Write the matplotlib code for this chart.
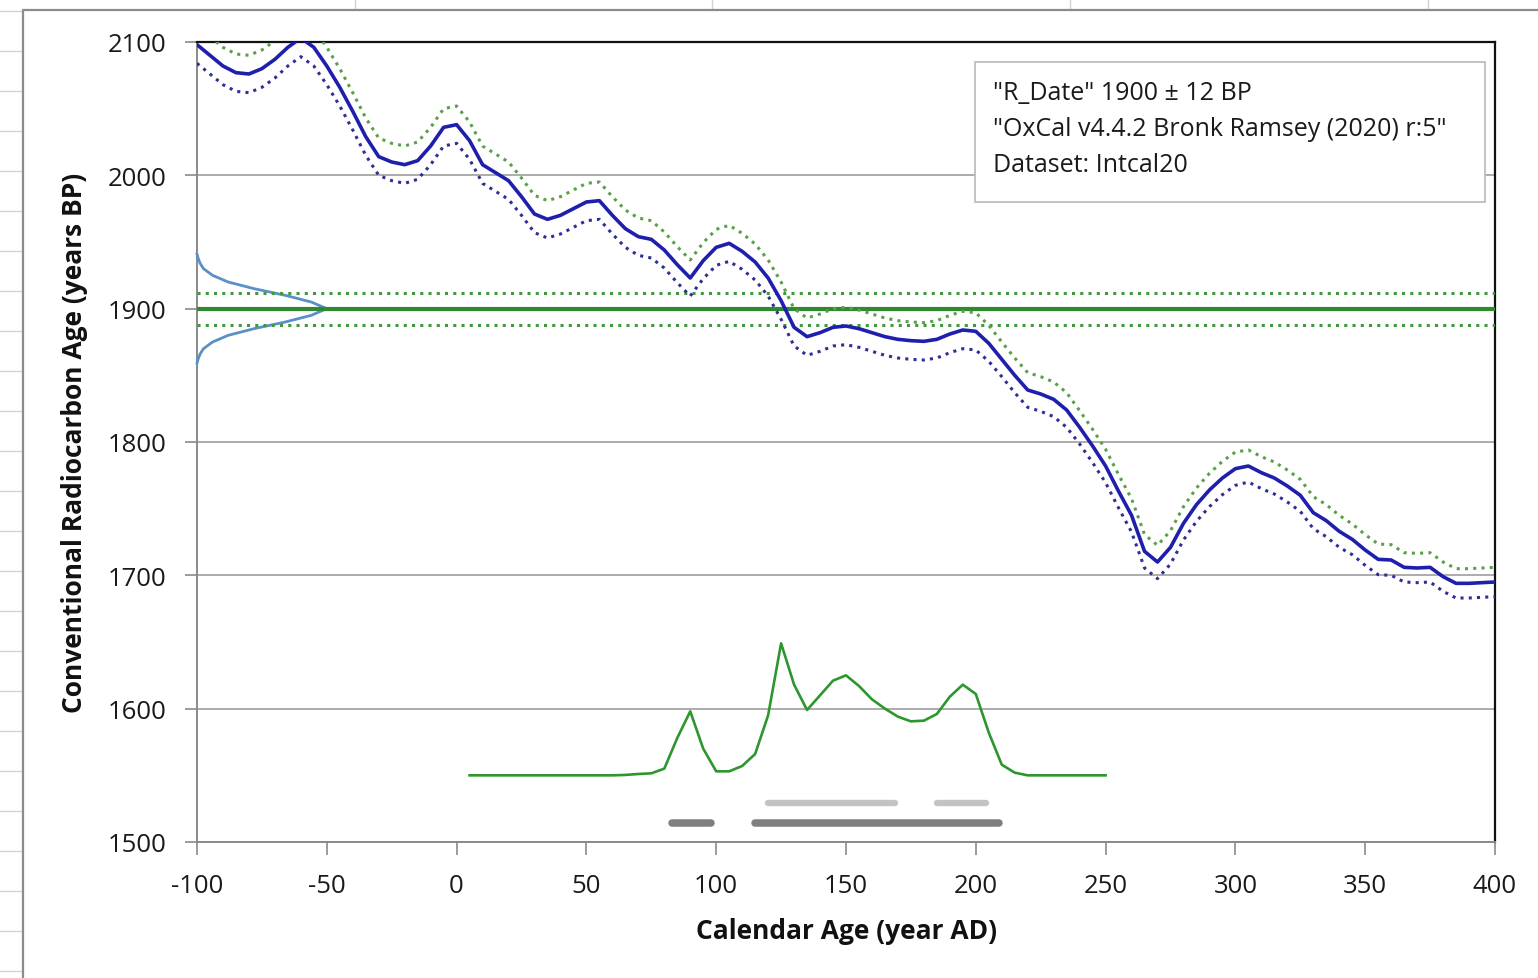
import numpy as np
import matplotlib
matplotlib.use('Agg')
import matplotlib.pyplot as plt
from matplotlib.lines import Line2D
from matplotlib.patches import Rectangle

plt.rcParams['font.family'] = ['Open Sans', 'DejaVu Sans']

# ---------------- data ----------------
cal_years = list(range(-100, 405, 5))
curve_bp = [2098, 2090, 2082, 2077, 2076, 2080, 2087, 2096, 2103, 2096,
            2082, 2066, 2048, 2029, 2014, 2010, 2008, 2011, 2022, 2036,
            2038, 2026, 2008, 2002, 1996, 1984, 1971, 1967, 1970, 1975,
            1980, 1981, 1970, 1960, 1954, 1952, 1944, 1933, 1923, 1936,
            1946, 1949, 1943, 1935, 1923, 1906, 1886, 1879, 1882, 1886,
            1887, 1885, 1882, 1879, 1877, 1876, 1875.5, 1877, 1881, 1884,
            1883, 1874, 1862, 1850, 1839, 1836, 1832, 1824, 1811, 1797,
            1782, 1763, 1745, 1718, 1710, 1721, 1739, 1753, 1764, 1773,
            1780, 1782, 1777, 1773, 1767, 1760, 1747, 1741, 1733, 1727,
            1719, 1712, 1711.5, 1706, 1705.5, 1706, 1699, 1694, 1694, 1694.5,
            1695]
curve_sigma = [14, 14, 14, 14, 14, 14, 14, 14, 14, 14,
               14, 14, 14, 14, 14, 14, 14, 14, 14, 14,
               14, 14, 14, 14, 14, 14, 14, 14, 14, 14,
               14, 14, 14, 14, 14, 14, 13.5, 13.5, 13.5, 13.5,
               13.5, 13.5, 13.5, 13.5, 13.5, 14, 14, 14, 14, 14,
               14, 14, 14, 14, 14, 14, 14, 14, 14, 14,
               14, 13.5, 13, 13, 13, 13, 13, 13, 12.5, 12.5,
               12.5, 12.5, 12.5, 12.5, 12.5, 12.5, 12.5, 12.5, 12.5, 12.5,
               12.5, 12, 12, 12, 12, 12, 12, 12, 12, 11.5,
               11.5, 11.5, 11.5, 11, 11, 11, 11, 11, 11, 11,
               11]

prob_years = list(range(5, 255, 5))
prob_values = [1550, 1550, 1550, 1550, 1550, 1550, 1550, 1550, 1550, 1550,
               1550, 1550, 1550.3, 1551, 1551.5, 1555, 1578, 1598, 1570, 1553,
               1553, 1557, 1566, 1595, 1649, 1618, 1599, 1610, 1621, 1625,
               1617, 1607, 1600, 1594, 1590.5, 1591, 1596, 1609, 1618, 1611,
               1582, 1558, 1552, 1550, 1550, 1550, 1550, 1550, 1550, 1550]

gauss_bp = [1859, 1862, 1866, 1870, 1875, 1880, 1885, 1890, 1895, 1900,
            1905, 1910, 1915, 1920, 1925, 1930, 1934, 1938, 1941]
gauss_width = [0, 0.4, 1.2, 2.5, 6, 12, 22, 34, 44, 50,
               44, 34, 22, 12, 6, 2.5, 1.2, 0.4, 0]

range68 = [(120, 169), (185, 204)]
range95 = [(83, 98), (115, 209)]
range68_level = 1529
range95_level = 1514

r_date = 1900
r_err = 12

xticks = [-100, -50, 0, 50, 100, 150, 200, 250, 300, 350, 400]
yticks = [1500, 1600, 1700, 1800, 1900, 2000, 2100]

info_lines = ['"R_Date" 1900 \u00b1 12 BP',
              '"OxCal v4.4.2 Bronk Ramsey (2020) r:5"',
              'Dataset: Intcal20']
xlabel = 'Calendar Age (year AD)'
ylabel = 'Conventional Radiocarbon Age (years BP)'

# ---------------- figure ----------------
W, H = 1538, 979
fig = plt.figure(figsize=(W / 100, H / 100), dpi=100)
fig.patch.set_facecolor('white')


def fx(px):
    return px / W


def fy(py):
    return 1 - py / H


# spreadsheet cell lines outside the chart
for yy in range(12, 979, 40):
    fig.add_artist(Line2D([0, fx(22)], [fy(yy), fy(yy)], color='#d2d2d2', lw=1.0))
for xx in [355, 712, 1070, 1428]:
    fig.add_artist(Line2D([fx(xx), fx(xx)], [fy(0), fy(10)], color='#d2d2d2', lw=1.0))
# chart area border
fig.add_artist(Line2D([fx(23), fx(23), 1.0], [0, fy(11), fy(11)],
                      color='#8c8c8c', lw=1.6))

ax = fig.add_axes([fx(197), fy(843), fx(1495) - fx(197), fy(43) - fy(843)])
ax.set_xlim(-100, 400)
ax.set_ylim(1500, 2100)

# gridlines
ax.set_yticks(yticks)
ax.set_xticks(xticks)
ax.yaxis.grid(True, color='#a6a6a6', lw=1.3)
ax.set_axisbelow(True)

cy = np.array(curve_bp)
cs = np.array(curve_sigma)
cx = np.array(cal_years)

# Gaussian on y-axis
ax.plot(-100 + np.array(gauss_width), gauss_bp, color='#5b8fc7', lw=2.0, zorder=3,
        clip_on=False)

# R_Date lines
dot = (0, (1, 1.7))
ax.axhline(r_date, color='#2f8a2f', lw=3.0, zorder=3)
ax.axhline(r_date + r_err, color='#3d9a3d', lw=2.2, ls=dot, dash_capstyle='butt', zorder=3)
ax.axhline(r_date - r_err, color='#3d9a3d', lw=2.2, ls=dot, dash_capstyle='butt', zorder=3)

# calibration curve
ax.plot(cx, cy + cs, color='#5aa04a', lw=2.2, ls=dot, dash_capstyle='butt', zorder=4)
ax.plot(cx, cy - cs, color='#2e2e96', lw=2.2, ls=dot, dash_capstyle='butt', zorder=4)
ax.plot(cx, cy, color='#1f1fae', lw=2.6, zorder=5)

# probability distribution
ax.plot(prob_years, prob_values, color='#2e962e', lw=1.9, zorder=4)

# ranges
for a, b in range68:
    ax.plot([a, b], [range68_level, range68_level], color='#c3c3c3', lw=4.6,
            solid_capstyle='round', zorder=4)
for a, b in range95:
    ax.plot([a, b], [range95_level, range95_level], color='#7f7f7f', lw=5.4,
            solid_capstyle='round', zorder=4)

# spines
for s in ['left', 'bottom']:
    ax.spines[s].set_color('#8a8a8a')
    ax.spines[s].set_linewidth(1.4)
for s in ['top', 'right']:
    ax.spines[s].set_color('#111111')
    ax.spines[s].set_linewidth(1.6)

ax.tick_params(axis='both', direction='out', length=9, width=1.2, color='#8a8a8a',
               labelsize=18.5, pad=13, labelcolor='#1a1a1a')
ax.set_xticklabels([str(v) for v in xticks])
ax.set_yticklabels([str(v) for v in yticks])

# info box
ax.add_patch(Rectangle((199.7, 1980), 396.0 - 199.7, 2085 - 1980, facecolor='white',
                       edgecolor='#bdbdbd', lw=1.3, zorder=6))
for txt, yv in zip(info_lines, [2062, 2035, 2008]):
    ax.text(206.6, yv, txt, fontsize=18, va='center', ha='left', color='#1a1a1a', zorder=7)

# axis titles
fig.text(fx(846), fy(932), xlabel, fontsize=19, fontweight='bold', ha='center',
         va='center', color='#111111')
fig.text(fx(75), fy(443), ylabel, fontsize=19, fontweight='bold', ha='center',
         va='center', rotation=90, color='#111111')

fig.savefig('out.png', dpi=100, facecolor='white')
